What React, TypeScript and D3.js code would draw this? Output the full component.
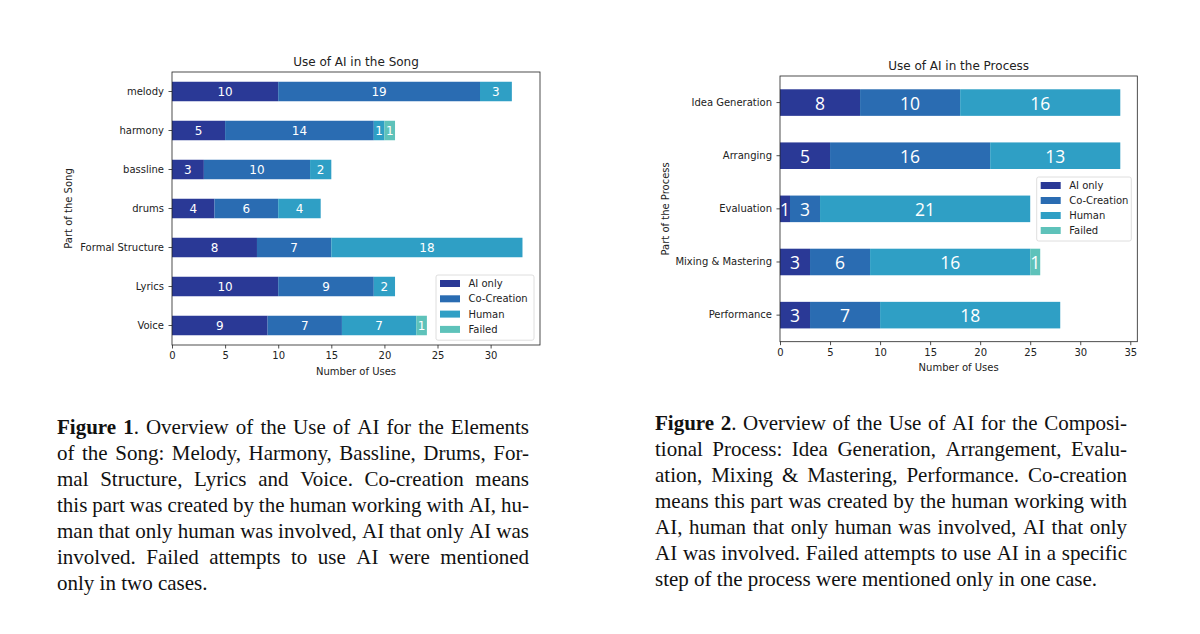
import React, { useEffect, useRef } from 'react';
import * as d3 from 'd3';

// series shared by both charts
const seriesNames = ['AI only', 'Co-Creation', 'Human', 'Failed'];
const seriesColors = ['#2a3996', '#2a6cb2', '#2f9fc5', '#5ec2ba'];

// Figure 1 - parts of the song
const songParts = ['melody', 'harmony', 'bassline', 'drums', 'Formal Structure', 'Lyrics', 'Voice'];
const songAiOnly = [10, 5, 3, 4, 8, 10, 9];
const songCoCreation = [19, 14, 10, 6, 7, 9, 7];
const songHuman = [3, 1, 2, 4, 18, 2, 7];
const songFailed = [0, 1, 0, 0, 0, 0, 1];
const songTicks = [0, 5, 10, 15, 20, 25, 30];

// Figure 2 - parts of the process
const processParts = ['Idea Generation', 'Arranging', 'Evaluation', 'Mixing & Mastering', 'Performance'];
const processAiOnly = [8, 5, 1, 3, 3];
const processCoCreation = [10, 16, 3, 6, 7];
const processHuman = [16, 13, 21, 16, 18];
const processFailed = [0, 0, 0, 1, 0];
const processTicks = [0, 5, 10, 15, 20, 25, 30, 35];

const caption1 = [
  'Figure 1. Overview of the Use of AI for the Elements',
  'of the Song: Melody, Harmony, Bassline, Drums, For-',
  'mal Structure, Lyrics and Voice.  Co-creation means',
  'this part was created by the human working with AI, hu-',
  'man that only human was involved, AI that only AI was',
  'involved.  Failed attempts to use AI were mentioned',
  'only in two cases.',
];
const caption2 = [
  'Figure 2. Overview of the Use of AI for the Composi-',
  'tional Process: Idea Generation, Arrangement, Evalu-',
  'ation, Mixing & Mastering, Performance. Co-creation',
  'means this part was created by the human working with',
  'AI, human that only human was involved, AI that only',
  'AI was involved. Failed attempts to use AI in a specific',
  'step of the process were mentioned only in one case.',
];

const SANS = '"DejaVu Sans", sans-serif';
const SERIF = '"Liberation Serif", "Times New Roman", serif';

interface ChartSpec {
  title: string;
  yLabel: string;
  parts: string[];
  values: number[][];
  ticks: number[];
  left: number;
  right: number;
  top: number;
  bottom: number;
  yLabelX: number;
  labelFont: string;
  labelSize: number;
  legendX: number;
  legendY: number;
  legendW: number;
  legendStep: number;
}

function drawChart(svg: d3.Selection<SVGSVGElement, unknown, null, undefined>, spec: ChartSpec) {
  const g = svg.append('g');
  const dataMax = d3.max(spec.parts.map((_, i) => d3.sum(spec.values, v => v[i]))) || 1;

  const x = d3.scaleLinear().domain([0, dataMax * 1.05]).range([spec.left, spec.right]);
  const y = d3.scaleBand<string>()
    .domain(spec.parts)
    .range([spec.top, spec.bottom])
    .paddingInner(0.5)
    .paddingOuter(0.25);

  const rows = spec.parts.map((p, i) => {
    const r: any = { part: p };
    seriesNames.forEach((s, k) => { r[s] = spec.values[k][i]; });
    return r;
  });
  const stacked = d3.stack<any>().keys(seriesNames)(rows);

  // bars
  stacked.forEach((layer, k) => {
    g.append('g')
      .selectAll('rect')
      .data(layer)
      .join('rect')
      .attr('x', d => x(d[0]))
      .attr('y', d => y(d.data.part) || 0)
      .attr('width', d => x(d[1]) - x(d[0]))
      .attr('height', y.bandwidth())
      .attr('fill', seriesColors[k]);

    g.append('g')
      .selectAll('text')
      .data(layer.filter(d => d[1] - d[0] > 0))
      .join('text')
      .attr('x', d => x((d[0] + d[1]) / 2))
      .attr('y', d => (y(d.data.part) || 0) + y.bandwidth() / 2)
      .attr('text-anchor', 'middle')
      .attr('dominant-baseline', 'central')
      .attr('fill', '#fff')
      .attr('font-family', spec.labelFont)
      .attr('font-size', spec.labelSize)
      .text(d => d[1] - d[0]);
  });

  // axes
  const xAxis = g.append('g')
    .attr('transform', `translate(0,${spec.bottom})`)
    .call(d3.axisBottom(x).tickValues(spec.ticks).tickSize(3.5).tickPadding(3.5));
  const yAxis = g.append('g')
    .attr('transform', `translate(${spec.left},0)`)
    .call(d3.axisLeft(y).tickSize(3.5).tickPadding(4.5));
  [xAxis, yAxis].forEach(a => {
    a.select('.domain').remove();
    a.attr('font-family', SANS).attr('font-size', 10);
    a.selectAll('line').attr('stroke', '#222').attr('stroke-width', 0.8);
    a.selectAll('text').attr('fill', '#222');
  });

  // frame
  g.append('rect')
    .attr('x', spec.left)
    .attr('y', spec.top)
    .attr('width', spec.right - spec.left)
    .attr('height', spec.bottom - spec.top)
    .attr('fill', 'none')
    .attr('stroke', '#222')
    .attr('stroke-width', 0.8);

  const cx = (spec.left + spec.right) / 2;
  g.append('text')
    .attr('x', cx)
    .attr('y', spec.top - 6)
    .attr('text-anchor', 'middle')
    .attr('font-family', SANS)
    .attr('font-size', 12)
    .attr('fill', '#222')
    .text(spec.title);

  g.append('text')
    .attr('x', cx)
    .attr('y', spec.bottom + 29.5)
    .attr('text-anchor', 'middle')
    .attr('font-family', SANS)
    .attr('font-size', 10)
    .attr('fill', '#222')
    .text('Number of Uses');

  const cy = (spec.top + spec.bottom) / 2;
  g.append('text')
    .attr('transform', `translate(${spec.yLabelX},${cy}) rotate(-90)`)
    .attr('text-anchor', 'middle')
    .attr('dominant-baseline', 'central')
    .attr('font-family', SANS)
    .attr('font-size', 10)
    .attr('fill', '#222')
    .text(spec.yLabel);

  // legend
  const lg = g.append('g').attr('transform', `translate(${spec.legendX},${spec.legendY})`);
  lg.append('rect')
    .attr('width', spec.legendW)
    .attr('height', spec.legendStep * 4 + 4)
    .attr('rx', 2)
    .attr('fill', '#fff')
    .attr('fill-opacity', 0.85)
    .attr('stroke', '#d6d6d6')
    .attr('stroke-width', 0.8);
  seriesNames.forEach((s, k) => {
    const yy = 8.5 + k * spec.legendStep;
    lg.append('rect')
      .attr('x', 4)
      .attr('y', yy - 3.5)
      .attr('width', 20)
      .attr('height', 7)
      .attr('fill', seriesColors[k]);
    lg.append('text')
      .attr('x', 32.5)
      .attr('y', yy)
      .attr('dominant-baseline', 'central')
      .attr('font-family', SANS)
      .attr('font-size', 10)
      .attr('fill', '#222')
      .text(s);
  });
}

// justified caption, one svg text per word
function drawCaption(svg: d3.Selection<SVGSVGElement, unknown, null, undefined>, lines: string[], x0: number, width: number, y0: number, step: number) {
  const g = svg.append('g')
    .attr('font-family', SERIF)
    .attr('font-size', 21)
    .attr('fill', '#111');

  lines.forEach((line, li) => {
    const words = line.split(/ +/);
    const nodes = words.map((w, wi) => {
      const t = g.append('text').attr('y', y0 + li * step);
      if (li === 0 && wi === 0) {
        t.append('tspan').attr('font-weight', 'bold').text(w);
      } else if (li === 0 && wi === 1) {
        t.append('tspan').attr('font-weight', 'bold').text(w.replace('.', ''));
        t.append('tspan').text('.');
      } else {
        t.text(w);
      }
      return t;
    });
    const widths = nodes.map(n => (n.node() as SVGTextElement).getComputedTextLength());
    const total = d3.sum(widths);
    const last = li === lines.length - 1;
    const gap = last || words.length < 2 ? 5.25 : (width - total) / (words.length - 1);
    let cur = x0;
    nodes.forEach((n, i) => {
      n.attr('x', cur);
      cur += widths[i] + gap;
    });
  });
}

export default function App() {
  const ref = useRef<SVGSVGElement>(null);

  useEffect(() => {
    if (!ref.current) return;
    const svg = d3.select(ref.current);
    svg.selectAll('*').remove();

    svg.append('rect').attr('width', 1200).attr('height', 634).attr('fill', '#fff');

    drawChart(svg, {
      title: 'Use of AI in the Song',
      yLabel: 'Part of the Song',
      parts: songParts,
      values: [songAiOnly, songCoCreation, songHuman, songFailed],
      ticks: songTicks,
      left: 172,
      right: 540,
      top: 72,
      bottom: 345,
      yLabelX: 68,
      labelFont: SANS,
      labelSize: 12,
      legendX: 436,
      legendY: 275,
      legendW: 98,
      legendStep: 15.3,
    });

    drawChart(svg, {
      title: 'Use of AI in the Process',
      yLabel: 'Part of the Process',
      parts: processParts,
      values: [processAiOnly, processCoCreation, processHuman, processFailed],
      ticks: processTicks,
      left: 780,
      right: 1137.3,
      top: 76,
      bottom: 341.7,
      yLabelX: 665,
      labelFont: '"Open Sans", sans-serif',
      labelSize: 17.5,
      legendX: 1036.7,
      legendY: 177,
      legendW: 94.6,
      legendStep: 15,
    });

    drawCaption(svg, caption1, 57, 472, 434, 26);
    drawCaption(svg, caption2, 655, 472, 430, 26);
  }, []);

  return (
    <svg
      ref={ref}
      width={1200}
      height={634}
      style={{ position: 'absolute', left: 0, top: 0, display: 'block' }}
    />
  );
}
